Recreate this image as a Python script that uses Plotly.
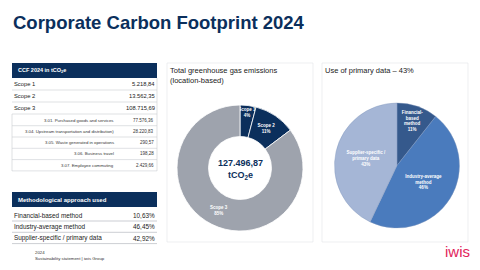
import plotly.graph_objects as go

W, H = 480, 270
NAVY = "#0b2f5c"
GRAY = "#9ea3ad"
FONT = "Liberation Sans, Arial, sans-serif"

# ---- data ----
title = "Corporate Carbon Footprint 2024"
ccf_header = "CCF 2024 in tCO<sub>2</sub>e"
scope_labels = ["Scope 1", "Scope 2", "Scope 3"]
scope_values = [5218.84, 13562.35, 108715.69]
scope_text = ["5.218,84", "13.562,35", "108.715,69"]
cat_labels = ["3.01. Purchased goods and services",
              "3.04. Upstream transportation and distribution)",
              "3.05. Waste generated in operations",
              "3.06. Business travel",
              "3.07. Employee commuting"]
cat_text = ["77.576,36", "28.220,83", "290,57", "198,28", "2.429,66"]
total_text = "127.496,87"

method_header = "Methodological approach used"
method_labels = ["Financial-based method", "Industry-average method", "Supplier-specific / primary data"]
method_values = [10.63, 46.45, 42.92]
method_text = ["10,63%", "46,45%", "42,92%"]
method_pie_labels = ["Financial-<br>based<br>method", "Industry-average<br>method", "Supplier-specific /<br>primary data"]
method_colors = ["#35598c", "#4a7bbd", "#a5b6d6"]

donut_title = "Total greenhouse gas emissions<br>(location-based)"
pie_title = "Use of primary data – 43%"
footer_lines = ["2024", "Sustainability statement | iwis Group"]


def px(x):
    return x / W


def py(y):
    return 1 - y / H


shapes = []
ann = []


def rect(x0, y0, x1, y1, fill=None, line=None, lw=0.6):
    shapes.append(dict(type="rect", xref="paper", yref="paper",
                       x0=px(x0), x1=px(x1), y0=py(y1), y1=py(y0),
                       fillcolor=fill or "rgba(0,0,0,0)",
                       line=dict(color=line or "rgba(0,0,0,0)", width=lw if line else 0),
                       layer="below"))


def hline(x0, x1, y, color="#c9ccd2", w=0.6):
    shapes.append(dict(type="line", xref="paper", yref="paper",
                       x0=px(x0), x1=px(x1), y0=py(y), y1=py(y),
                       line=dict(color=color, width=w)))


def text(x, y, s, size, color="#222222", anchor="left", bold=False, yanchor="middle"):
    if bold:
        s = "<b>" + s + "</b>"
    ann.append(dict(xref="paper", yref="paper", x=px(x), y=py(y), text=s,
                    showarrow=False, xanchor=anchor, yanchor=yanchor, align=anchor,
                    font=dict(family=FONT, size=size, color=color)))


# title
text(11, 22, title, 18.5, NAVY, bold=True)

# table 1
rect(12, 63, 157, 78, fill=NAVY)
text(16, 70.5, ccf_header, 5.5, "white", bold=True)
y = 84
for lab, val in zip(scope_labels, scope_text):
    text(12, y, lab, 5.8, "#222222")
    text(157, y, val, 5.8, "#222222", anchor="right")
    hline(12, 157, y + 6)
    y += 12
y = 120
for lab, val in zip(cat_labels, cat_text):
    text(116, y, lab, 4.3, "#333333", anchor="right")
    text(156, y, val, 4.5, "#333333", anchor="right")
    hline(12, 157, y + 5.7)
    y += 11.3
shapes.append(dict(type="line", xref="paper", yref="paper", x0=px(12), x1=px(12),
                   y0=py(171), y1=py(114), line=dict(color="#c9ccd2", width=0.6)))
shapes.append(dict(type="line", xref="paper", yref="paper", x0=px(157), x1=px(157),
                   y0=py(171), y1=py(78), line=dict(color="#c9ccd2", width=0.6)))

# table 2
rect(12, 192, 157, 207, fill=NAVY)
text(16, 200, method_header, 6, "white", bold=True)
y = 215.5
for lab, val in zip(method_labels, method_text):
    text(12, y, lab, 6.4, "#222222")
    text(157, y, val, 6.4, "#222222", anchor="right")
    hline(12, 157, y + 5.5, color="#a9adb5")
    y += 11.3

# panels
rect(167, 63, 313, 242, line="#e2e4e8")
rect(322, 63, 468, 242, line="#e2e4e8")
text(168, 75.5, donut_title, 7.5, "#222222")
text(323, 70, pie_title, 7.5, "#222222")

# centre text of donut
text(240, 163, total_text, 9, NAVY, anchor="center", bold=True)
text(240, 175, "tCO<sub>2</sub>e", 9, NAVY, anchor="center", bold=True)

# footer
text(33, 252.5, footer_lines[0], 4.3, "#333333")
text(33, 258.5, footer_lines[1], 4.3, "#333333")
text(457, 251, "iwis", 15, "#e2245b", anchor="center")

fig = go.Figure()
fig.add_trace(go.Pie(
    labels=scope_labels, values=scope_values, hole=0.5, sort=False,
    direction="clockwise", rotation=0,
    marker=dict(colors=[NAVY, NAVY, GRAY], line=dict(color="white", width=0.8)),
    texttemplate="<b>%{label}<br>%{percent:.0%}</b>", textposition="inside",
    insidetextorientation="horizontal",
    textfont=dict(family=FONT, size=4.5, color="white"),
    domain=dict(x=[px(177), px(303)], y=[py(231), py(105)]),
    showlegend=False, hoverinfo="label+value+percent"))
fig.add_trace(go.Pie(
    labels=method_labels, values=method_values, sort=False,
    direction="clockwise", rotation=0, text=method_pie_labels,
    marker=dict(colors=method_colors, line=dict(color="#7f95bb", width=0.4)),
    texttemplate="<b>%{text}<br>%{percent:.0%}</b>", textposition="inside",
    insidetextorientation="horizontal",
    textfont=dict(family=FONT, size=4.5, color="white"),
    domain=dict(x=[px(334.5), px(459.5)], y=[py(228), py(103)]),
    showlegend=False, hoverinfo="label+value+percent"))

fig.update_layout(width=W, height=H, margin=dict(l=0, r=0, t=0, b=0),
                  paper_bgcolor="white", plot_bgcolor="white",
                  uniformtext=dict(minsize=4.5, mode="show"),
                  shapes=shapes, annotations=ann, font=dict(family=FONT))
fig.write_html("out.html")
